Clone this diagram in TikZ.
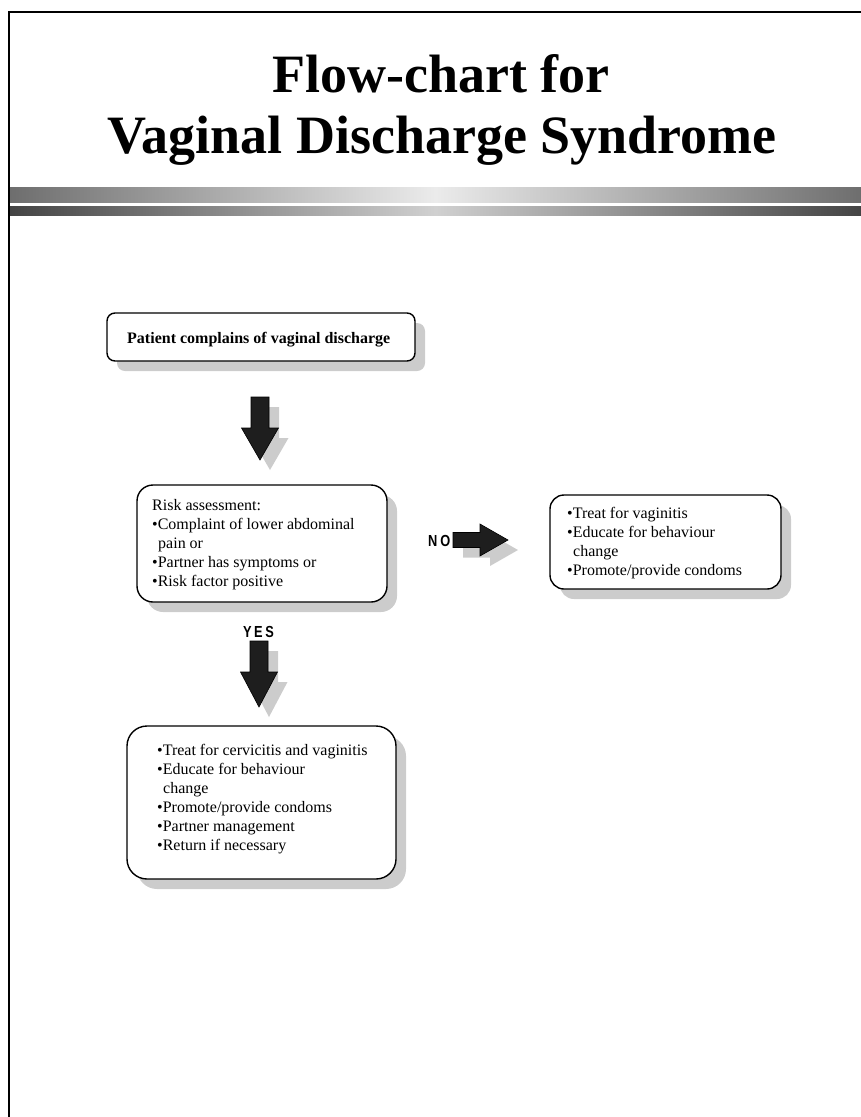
\documentclass[tikz,border=0pt]{standalone}
\usepackage{fontspec}
\setmainfont{Liberation Serif}
\newfontfamily\lblfont{Liberation Sans}[FakeStretch=0.8]
\usetikzlibrary{shadows}
\definecolor{shadowgray}{HTML}{CCCCCC}
\definecolor{arrowfill}{HTML}{1E1E1E}
\definecolor{barA}{HTML}{6E6E6E}
\definecolor{barB}{HTML}{EBEBEB}
\definecolor{barC}{HTML}{444444}
\definecolor{barD}{HTML}{D0D0D0}
\begin{document}
\begin{tikzpicture}[x=1pt,y=-1pt,
  box/.style={draw=black, line width=1.4pt, fill=white, inner sep=0pt,
    drop shadow={shadow xshift=10pt,shadow yshift=-10pt,fill=shadowgray,opacity=1}},
  % multi-line text: the base anchor sits on the last line's baseline
  body/.style={font=\fontsize{16}{19}\selectfont, align=left, inner sep=0pt, anchor=base west},
  title/.style={font=\fontsize{54}{62}\selectfont\bfseries, inner sep=0pt, anchor=base},
  answer/.style={font=\lblfont\fontsize{16}{16}\selectfont\bfseries, inner sep=0pt, anchor=base west},
  blockarrow/.style={fill=arrowfill, draw=black, line width=0.6pt, line join=miter},
  blockshadow/.style={fill=shadowgray},
  pics/downblock/.style={code={
    \fill[blockshadow, shift={(10,10)}] (-9,0) -- (9,0) -- (9,31) -- (18.5,31) -- (0,#1) -- (-18.5,31) -- (-9,31) -- cycle;
    \filldraw[blockarrow] (-9,0) -- (9,0) -- (9,31) -- (18.5,31) -- (0,#1) -- (-18.5,31) -- (-9,31) -- cycle;
  }},
  pics/rightblock/.style={code={
    \fill[blockshadow, shift={(10,10)}] (0,-7.5) -- (27,-7.5) -- (27,-16) -- (#1,0) -- (27,16) -- (27,7.5) -- (0,7.5) -- cycle;
    \filldraw[blockarrow] (0,-7.5) -- (27,-7.5) -- (27,-16) -- (#1,0) -- (27,16) -- (27,7.5) -- (0,7.5) -- cycle;
  }}
]
\useasboundingbox (0,0) rectangle (861,1117);

% page frame (top and left rules)
\draw[line width=2pt, line cap=rect] (9,1117) -- (9,12) -- (861,12);

% title
\node[title] (title1) at (441,92) {Flow-chart for};
\node[title] (title2) at (442,153) {Vaginal Discharge Syndrome};

% shaded rules under the title
\shade[left color=barA, right color=barA, middle color=barB] (10,187) rectangle (861,202);
\shade[left color=barC, right color=barC, middle color=barD] (10,206) rectangle (861,215);

% boxes
\node[box, rounded corners=8pt, minimum width=308pt, minimum height=48pt] (start) at (261,337) {};
\node[body, font=\fontsize{16}{19}\selectfont\bfseries] (starttext) at (127,343) {Patient complains of vaginal discharge};

\node[box, rounded corners=16pt, minimum width=250pt, minimum height=117pt] (risk) at (262,543.5) {};
\node[body] (risktext) at (152,586) {Risk assessment:\\
  \textbullet Complaint of lower abdominal\\
  \hspace*{6pt}pain or\\
  \textbullet Partner has symptoms or\\
  \textbullet Risk factor positive};

\node[box, rounded corners=14pt, minimum width=231pt, minimum height=94pt] (vag) at (665.5,542) {};
\node[body] (vagtext) at (567,575) {\textbullet Treat for vaginitis\\
  \textbullet Educate for behaviour\\
  \hspace*{6pt}change\\
  \textbullet Promote/provide condoms};

\node[box, rounded corners=20pt, minimum width=269pt, minimum height=153pt] (cerv) at (261.5,802.5) {};
\node[body] (cervtext) at (157,850) {\textbullet Treat for cervicitis and vaginitis\\
  \textbullet Educate for behaviour\\
  \hspace*{6pt}change\\
  \textbullet Promote/provide condoms\\
  \textbullet Partner management\\
  \textbullet Return if necessary};

% block arrows
\pic (arrowrisk) at (260,397) {downblock=63};
\pic (arrowyes) at (259,641) {downblock=66};
\pic (arrowno) at (453,540) {rightblock=55};

% decision labels
\node[answer] (no) at (428,546) {N\hspace{3pt}O};
\node[answer] (yes) at (243,637) {Y\hspace{2.5pt}E\hspace{2.5pt}S};
\end{tikzpicture}
\end{document}
